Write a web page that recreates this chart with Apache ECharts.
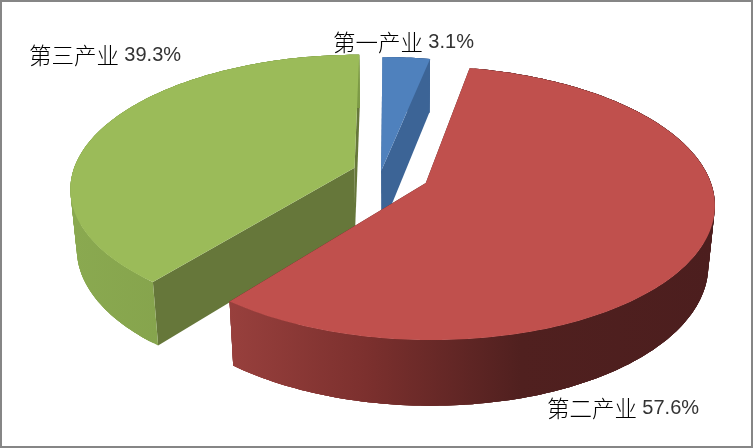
<!DOCTYPE html>
<html><head><meta charset="utf-8">
<style>html,body{margin:0;padding:0;background:#fff}#c{width:753px;height:448px}</style>
<script src="https://cdn.jsdelivr.net/npm/echarts@6/dist/echarts.min.js"></script>
</head><body><div id="c"></div>
<script>
const categories = ['第一产业', '第二产业', '第三产业'];
const values = [3.1, 57.6, 39.3];
const topColors = ['#4f81bd', '#c0504d', '#9bbb59'];
const cutColors = ['#3c6496', '#4e1f1f', '#66773a'];
const wallStops = [
  [[0, '#3c6496'], [1, '#3c6496']],
  [[0, '#98403d'], [0.28, '#7c302e'], [0.6, '#50201f'], [1, '#4c1e1e']],
  [[0, '#8aa950'], [1, '#7d9a46']]
];
const explode = [[-0.035, -0.015], [0.122, 0.075], [-0.13, -0.04]];
const drawOrder = [2, 3, 1];
const labelBoxes = [[333, 42], [547, 408], [29, 55]];

const cx = 391, cy = 173, sx = 282, ty = 131, p = 0.146, q = 0.02, depth = 60;
function project(u, v, z) {
  const w = 1 - p * v + q * z;
  return [cx + sx * u / w, cy + (ty * v + depth * z) / w];
}
function arcPoints(i, a0, a1, z) {
  const e = explode[i], pts = [], n = Math.max(6, Math.ceil((a1 - a0) / 0.02));
  for (let k = 0; k <= n; k++) {
    const a = a0 + (a1 - a0) * k / n;
    pts.push(project(e[0] + Math.sin(a), e[1] - Math.cos(a), z));
  }
  return pts;
}
const total = values.reduce((s, v) => s + v, 0);
function renderItem(params, api) {
  const i = params.dataIndex;
  let before = 0;
  for (let k = 0; k < i; k++) before += values[k];
  const a0 = before / total * Math.PI * 2;
  const a1 = (before + api.value(1)) / total * Math.PI * 2;
  const e = explode[i];
  const apexT = project(e[0], e[1], 0), apexB = project(e[0], e[1], 1);
  const top = arcPoints(i, a0, a1, 0), bot = arcPoints(i, a0, a1, 1);
  const z = drawOrder[i] * 10;
  const poly = (points, fill, zz) => ({type: 'polygon', shape: {points}, z2: z + zz,
    style: {fill, stroke: null}});
  const lastT = top[top.length - 1], lastB = bot[bot.length - 1];
  const grad = new echarts.graphic.LinearGradient(
    Math.min(...top.map(t => t[0])), 0, Math.max(...top.map(t => t[0])), 0, wallStops[i].map(s => ({offset: s[0], color: s[1]})), true);
  const label = `{c|${categories[i]}} {n|${api.value(1).toFixed(1)}%}`;
  const wall = [];
  const last = top.length - 1;
  for (let k = 0; k < last; k += 1) {
    const m = Math.min(k + 4, last);
    wall.push(poly(top.slice(k, m + 1).concat(bot.slice(k, m + 1).reverse()), grad, 2));
  }
  return {type: 'group', children: [
    poly([apexT, top[0], bot[0], apexB], cutColors[i], 0),
    poly([apexT, lastT, lastB, apexB], cutColors[i], 1),
    ...wall,
    poly([apexT].concat(top), topColors[i], 3),
    {type: 'text', z2: 100, x: labelBoxes[i][0], y: labelBoxes[i][1],
      style: {text: label, verticalAlign: 'middle', rich: {
        c: {fontFamily: 'Noto Sans CJK SC', fontSize: 22.5, fontWeight: 300, fill: '#000', padding: [0, 2, 0, 0]},
        n: {fontFamily: 'Liberation Sans', fontSize: 20, fill: '#333'}
      }}}
  ]};
}
const chart = echarts.init(document.getElementById('c'), null, {renderer: 'canvas'});
chart.setOption({
  animation: false,
  backgroundColor: '#fff',
  graphic: [{type: 'rect', z: -1, shape: {x: 1, y: 1, width: 751, height: 446},
    style: {fill: 'none', stroke: '#868686', lineWidth: 2}}],
  series: [{
    type: 'custom', coordinateSystem: 'none', renderItem,
    data: categories.map((c, i) => [c, values[i]])
  }]
});
</script></body></html>
